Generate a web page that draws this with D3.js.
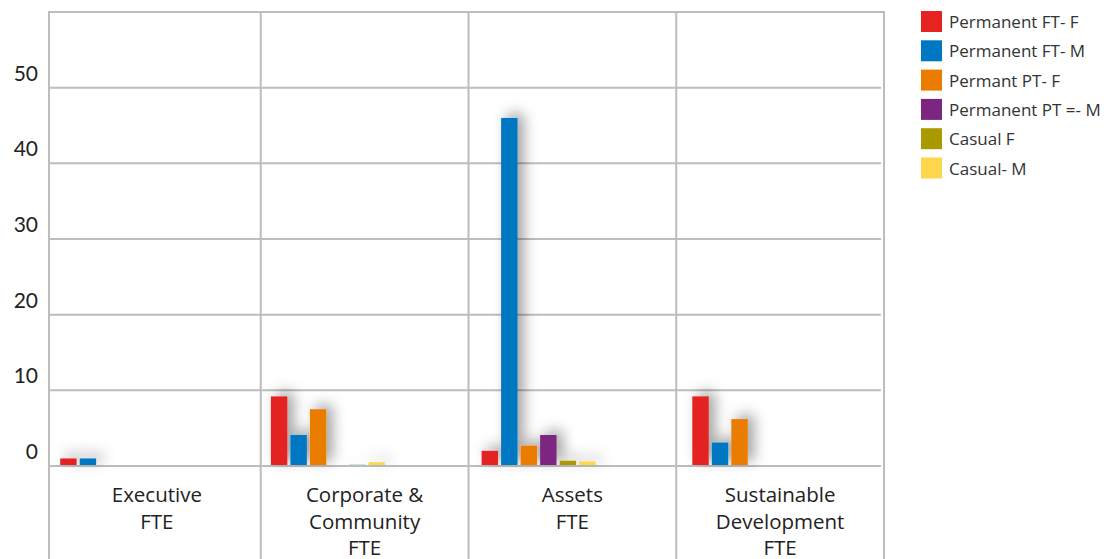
<!DOCTYPE html>
<html>
<head>
<meta charset="utf-8">
<script src="https://cdn.jsdelivr.net/npm/d3@7"></script>
<style>
  body { margin: 0; background: #fff; }
  svg { display: block; }
</style>
</head>
<body>
<div id="chart"></div>
<script>
// data
const categories = ["Executive FTE", "Corporate & Community FTE", "Assets FTE", "Sustainable Development FTE"];
const categoryLines = [["Executive", "FTE"], ["Corporate &", "Community", "FTE"], ["Assets", "FTE"], ["Sustainable", "Development", "FTE"]];
const seriesNames = ["Permanent FT- F", "Permanent FT- M", "Permant PT- F", "Permanent PT =- M", "Casual F", "Casual- M"];
const seriesColors = ["#e52421", "#0077c2", "#ea7d00", "#7c2682", "#a99a00", "#fed64b"];
const permFtF = [1, 9.2, 2, 9.2];
const permFtM = [1, 4.1, 46, 3.1];
const permPtF = [0, 7.5, 2.7, 6.2];
const permPtM = [0, 0, 4.1, 0];
const casualF = [0, 0.2, 0.7, 0];
const casualM = [0, 0.5, 0.6, 0];
const yTicks = [0, 10, 20, 30, 40, 50];
// one odd bar in the source is drawn light blue
const colorOverrides = [{ series: "Casual F", category: "Corporate & Community FTE", color: "#8ecfe0" }];

const seriesValues = [permFtF, permFtM, permPtF, permPtM, casualF, casualM];

const width = 1111, height = 559;
const plot = { left: 49, right: 884, top: 12, zero: 466 };

const svg = d3.select("#chart").append("svg")
    .attr("width", width)
    .attr("height", height);

const defs = svg.append("defs");
const shadow = defs.append("filter").attr("id", "shadow")
    .attr("x", "-150%").attr("y", "-50%").attr("width", "400%").attr("height", "200%");
shadow.append("feDropShadow")
    .attr("dx", 6).attr("dy", -4)
    .attr("stdDeviation", 7)
    .attr("flood-color", "#000")
    .attr("flood-opacity", 0.38);

const y = d3.scaleLinear().domain([0, 60]).range([plot.zero, plot.top]);

// category cells (first cell starts a little right of the axis line)
const x0 = d3.scaleBand().domain(categories).range([53, plot.right]);
// bar groups sit a bit off the category cells
const xGroup = d3.scaleBand().domain(categories).range([60.2, 60.2 + 4 * 210.7]);
const x1 = d3.scaleBand().domain(seriesNames).range([0, 6 * 19]).paddingInner(3 / 19);

const gridColor = "#bdbdbd";

// horizontal grid
svg.append("g")
  .selectAll("line")
  .data(yTicks)
  .join("line")
    .attr("x1", plot.left).attr("x2", plot.right - 3)
    .attr("y1", d => y(d)).attr("y2", d => y(d))
    .attr("stroke", gridColor)
    .attr("stroke-width", 2);

// top border
svg.append("line")
    .attr("x1", plot.left).attr("x2", plot.right)
    .attr("y1", plot.top).attr("y2", plot.top)
    .attr("stroke", gridColor).attr("stroke-width", 2);

// axis line and category dividers run to the bottom of the picture
const dividers = [plot.left].concat(categories.slice(1).map(c => x0(c)), [plot.right]);
svg.append("g")
  .selectAll("line")
  .data(dividers)
  .join("line")
    .attr("x1", d => d).attr("x2", d => d)
    .attr("y1", plot.top - 1).attr("y2", height)
    .attr("stroke", gridColor)
    .attr("stroke-width", 2);

// y labels
svg.append("g")
  .selectAll("text")
  .data(yTicks)
  .join("text")
    .attr("x", 38)
    .attr("y", d => y(d) - 7)
    .attr("text-anchor", "end")
    .attr("font-family", "Lato, 'Open Sans', sans-serif")
    .attr("font-size", 21)
    .attr("fill", "#222")
    .text(d => d);

// bars
const bars = [];
categories.forEach((c, ci) => {
  seriesNames.forEach((s, si) => {
    const v = seriesValues[si][ci];
    if (v > 0) {
      const o = colorOverrides.find(d => d.series === s && d.category === c);
      bars.push({ c, s, v, color: o ? o.color : seriesColors[si] });
    }
  });
});

svg.append("g")
    .attr("filter", "url(#shadow)")
  .selectAll("rect")
  .data(bars)
  .join("rect")
    .attr("x", d => xGroup(d.c) + x1(d.s))
    .attr("width", x1.bandwidth())
    .attr("y", d => y(d.v))
    .attr("height", d => y(0) - y(d.v) - 1)
    .attr("fill", d => d.color);

// category labels
const catG = svg.append("g")
  .selectAll("text")
  .data(categories)
  .join("text")
    .attr("x", d => x0(d) + x0.bandwidth() / 2)
    .attr("y", 502)
    .attr("text-anchor", "middle")
    .attr("font-family", "'Open Sans', sans-serif")
    .attr("font-size", 20.5)
    .attr("fill", "#222");

catG.selectAll("tspan")
  .data((d, i) => categoryLines[i].map(t => ({ t, cx: x0(d) + x0.bandwidth() / 2 })))
  .join("tspan")
    .attr("x", d => d.cx)
    .attr("dy", (d, i) => i === 0 ? 0 : 26.5)
    .text(d => d.t);

// legend
const legend = svg.append("g")
  .selectAll("g")
  .data(seriesNames)
  .join("g")
    .attr("transform", (d, i) => `translate(921, ${11 + i * 29.3})`);

legend.append("rect")
    .attr("width", 21).attr("height", 21)
    .attr("fill", (d, i) => seriesColors[i]);

legend.append("text")
    .attr("x", 28).attr("y", 17)
    .attr("font-family", "'Open Sans', sans-serif")
    .attr("font-size", 17)
    .attr("fill", "#333")
    .text(d => d);
</script>
</body>
</html>
